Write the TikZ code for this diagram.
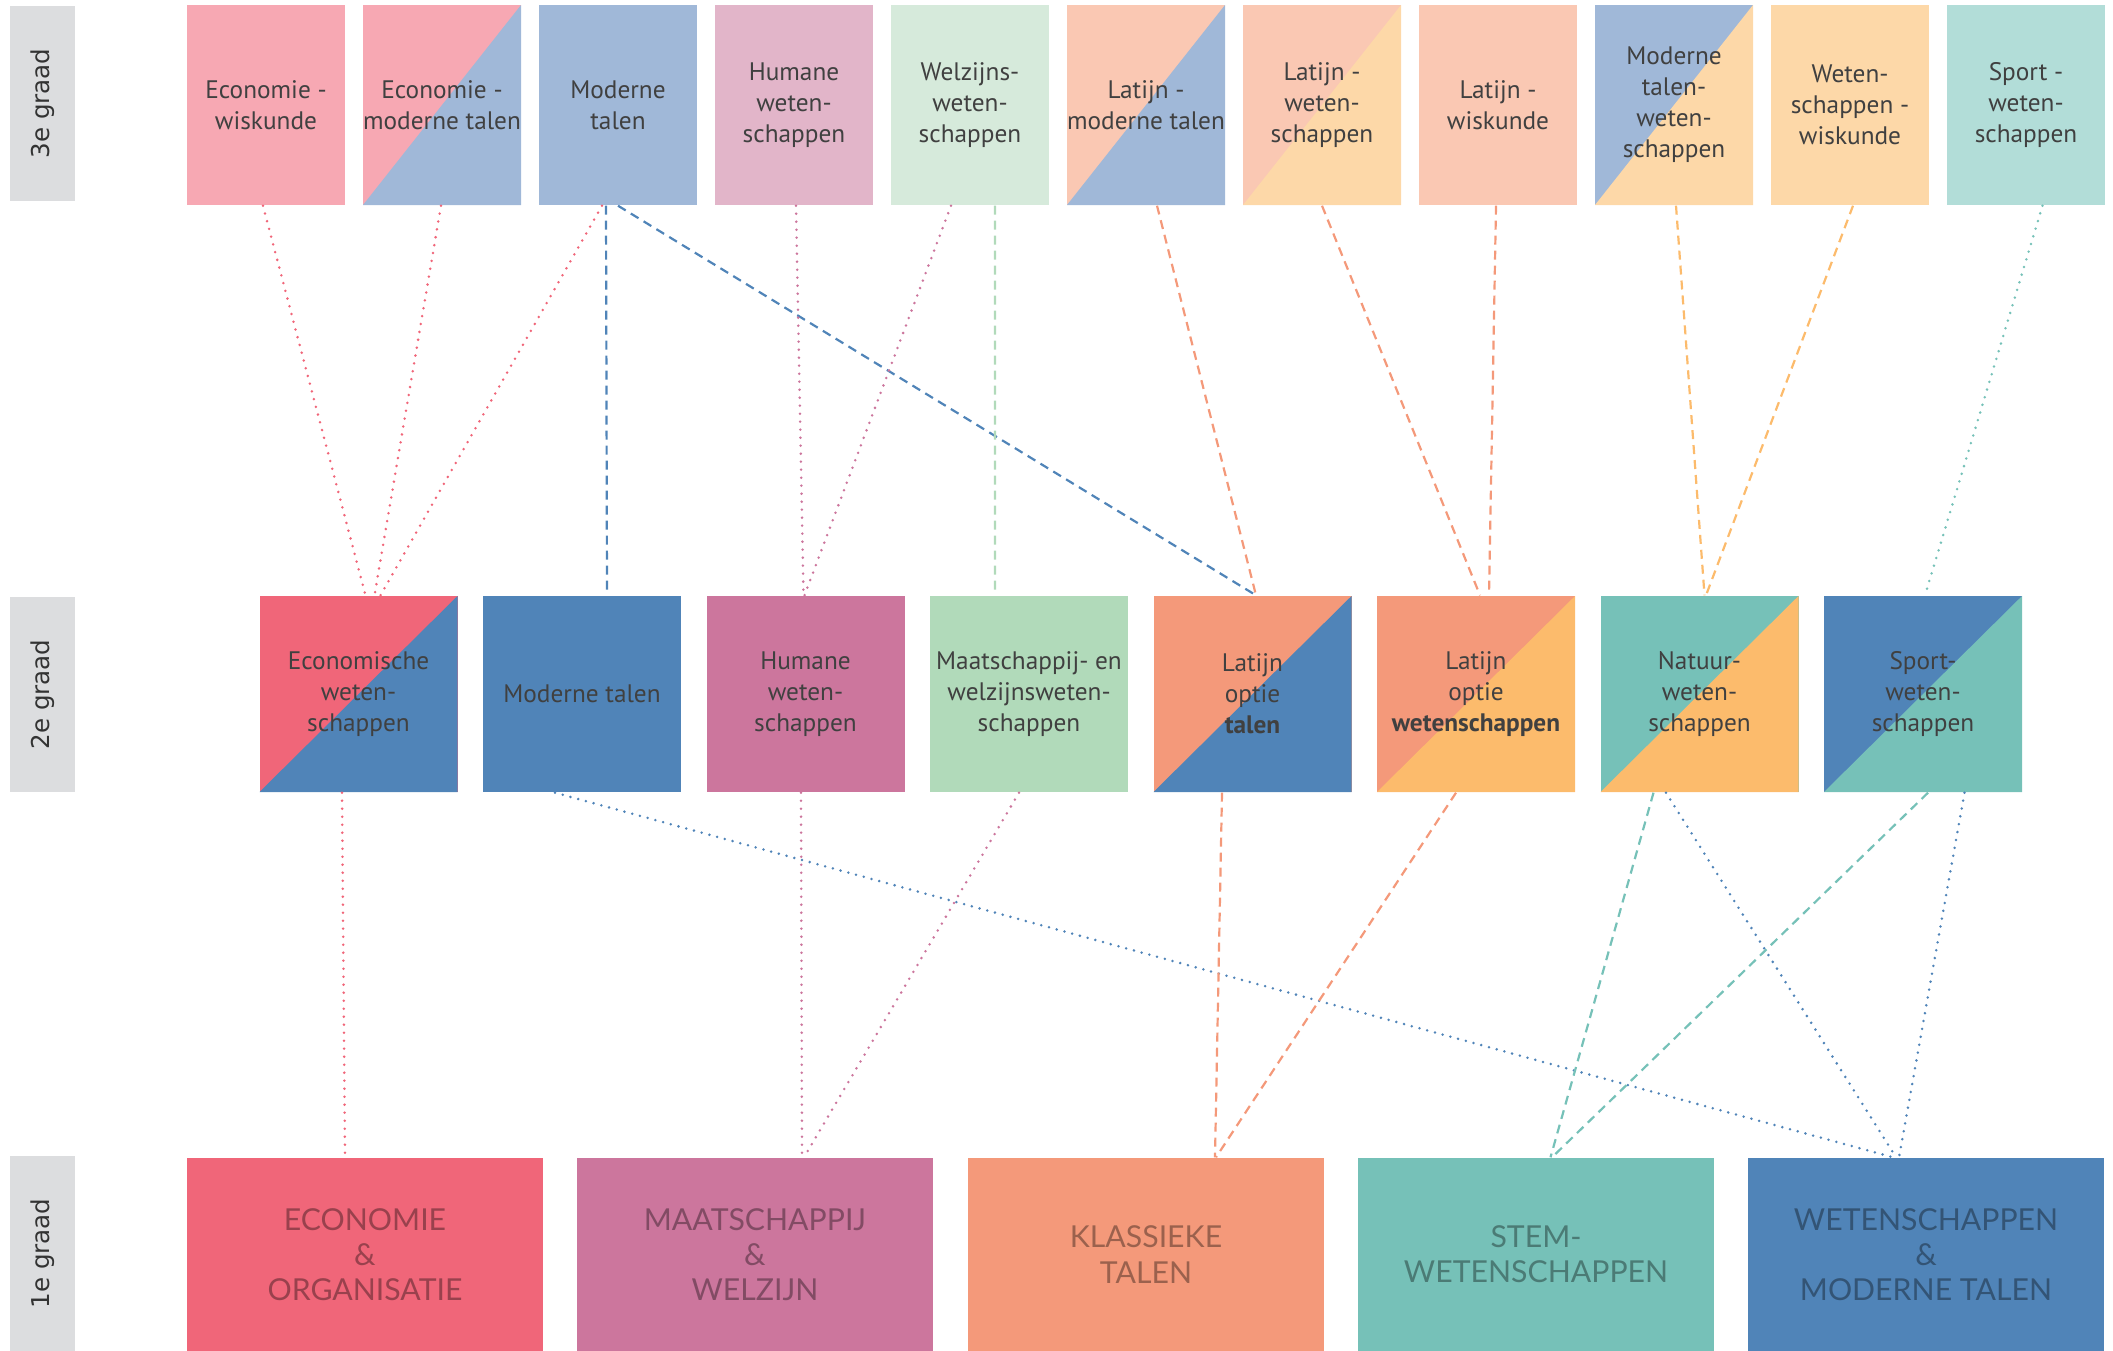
\documentclass[tikz,border=0pt]{standalone}
\usepackage{fontspec}
\setmainfont{PT Sans}
\newfontfamily\capsfont{Lato}
\newfontfamily\gradefont{DejaVu Sans}
\definecolor{ecoL}{HTML}{F7A8B3}
\definecolor{blueL}{HTML}{A0B8D8}
\definecolor{humL}{HTML}{E2B5C9}
\definecolor{welL}{HTML}{D6EADB}
\definecolor{latL}{HTML}{FAC8B3}
\definecolor{wetL}{HTML}{FDD8A8}
\definecolor{spoL}{HTML}{B2DDD8}
\definecolor{ecoD}{HTML}{F06679}
\definecolor{blueD}{HTML}{5084B8}
\definecolor{humD}{HTML}{CC769D}
\definecolor{welD}{HTML}{B1DABA}
\definecolor{latD}{HTML}{F4997A}
\definecolor{wetD}{HTML}{FCBB6C}
\definecolor{tealD}{HTML}{76C1B8}
\definecolor{gradegray}{HTML}{DCDDDF}
\tikzset{
  box/.style={inner sep=0pt, align=center, text=black!75,
    font=\fontsize{7.2}{8.8}\selectfont},
  topbox/.style={box, minimum width=1.58cm, minimum height=2cm},
  midbox/.style={box, minimum width=1.98cm, minimum height=1.96cm},
  basebox/.style={inner sep=0pt, align=center, minimum width=3.56cm,
    minimum height=1.93cm, fill=#1, text=black, text opacity=0.36,
    font=\capsfont\fontsize{8.6}{10}\selectfont},
  gradebox/.style={fill=gradegray, minimum width=0.65cm, minimum height=1.95cm,
    inner sep=0pt},
  gradetext/.style={rotate=90, text=black!80, font=\gradefont\fontsize{7}{8}\selectfont},
  twotone/.style 2 args={fill=#1, path picture={
    \fill[#2] (path picture bounding box.south west)
      -- (path picture bounding box.north east)
      -- (path picture bounding box.south east) -- cycle;}},
  dotline/.style={#1, line width=0.28mm, line cap=round,
    dash pattern=on 0pt off 0.8mm},
  dashline/.style={#1, line width=0.22mm, dash pattern=on 0.9mm off 0.6mm}
}
\begin{document}
\begin{tikzpicture}
    \useasboundingbox (0,0) rectangle (21.13,-13.51);

    \node[gradebox] (g3) at (0.43,-1.035) {};
    \node[gradetext] at (g3) {3e graad};
    \node[gradebox] (g2) at (0.43,-6.945) {};
    \node[gradetext] at (g2) {2e graad};
    \node[gradebox] (g1) at (0.43,-12.535) {};
    \node[gradetext] at (g1) {1e graad};

    \node[topbox, fill=ecoL] (t1) at (2.66,-1.05) {Economie -\\wiskunde};
    \node[topbox, twotone={ecoL}{blueL}] (t2) at (4.42,-1.05) {Economie -\\moderne talen};
    \node[topbox, fill=blueL] (t3) at (6.18,-1.05) {Moderne\\talen};
    \node[topbox, fill=humL] (t4) at (7.94,-1.05) {Humane\\weten-\\schappen};
    \node[topbox, fill=welL] (t5) at (9.70,-1.05) {Welzijns-\\weten-\\schappen};
    \node[topbox, twotone={latL}{blueL}] (t6) at (11.46,-1.05) {Latijn -\\moderne talen};
    \node[topbox, twotone={latL}{wetL}] (t7) at (13.22,-1.05) {Latijn -\\weten-\\schappen};
    \node[topbox, fill=latL] (t8) at (14.98,-1.05) {Latijn -\\wiskunde};
    \node[topbox, twotone={blueL}{wetL}] (t9) at (16.74,-1.05) {Moderne\\talen-\\weten-\\schappen};
    \node[topbox, fill=wetL] (t10) at (18.50,-1.05) {Weten-\\schappen -\\wiskunde};
    \node[topbox, fill=spoL] (t11) at (20.26,-1.05) {Sport -\\weten-\\schappen};

    \node[midbox, twotone={ecoD}{blueD}] (m1) at (3.585,-6.94) {Economische\\weten-\\schappen};
    \node[midbox, fill=blueD] (m2) at (5.82,-6.94) {Moderne talen};
    \node[midbox, fill=humD] (m3) at (8.055,-6.94) {Humane\\weten-\\schappen};
    \node[midbox, fill=welD] (m4) at (10.29,-6.94) {Maatschappij- en\\welzijnsweten-\\schappen};
    \node[midbox, twotone={latD}{blueD}] (m5) at (12.525,-6.94) {Latijn\\optie\\\textbf{talen}};
    \node[midbox, twotone={latD}{wetD}] (m6) at (14.76,-6.94) {Latijn\\optie\\\textbf{wetenschappen}};
    \node[midbox, twotone={tealD}{wetD}] (m7) at (16.995,-6.94) {Natuur-\\weten-\\schappen};
    \node[midbox, twotone={blueD}{tealD}] (m8) at (19.23,-6.94) {Sport-\\weten-\\schappen};

    \node[basebox=ecoD] (b1) at (3.65,-12.545) {ECONOMIE\\\&\\ORGANISATIE};
    \node[basebox=humD] (b2) at (7.55,-12.545) {MAATSCHAPPIJ\\\&\\WELZIJN};
    \node[basebox=latD] (b3) at (11.46,-12.545) {KLASSIEKE\\TALEN};
    \node[basebox=tealD] (b4) at (15.36,-12.545) {STEM-\\WETENSCHAPPEN};
    \node[basebox=blueD] (b5) at (19.26,-12.545) {WETENSCHAPPEN\\\&\\MODERNE TALEN};

    \draw[dotline=ecoD] ([xshift=-0.03cm]t1.south) -- ([xshift=0.07cm]m1.north);
    \draw[dotline=ecoD] ([xshift=-0.01cm]t2.south) -- ([xshift=0.16cm]m1.north);
    \draw[dotline=ecoD] ([xshift=-0.16cm]t3.south) -- ([xshift=0.22cm]m1.north);
    \draw[dashline=blueD] ([xshift=-0.12cm]t3.south) -- ([xshift=0.25cm]m2.north);
    \draw[dashline=blueD] (t3.south) -- ([xshift=0.035cm]m5.north);
    \draw[dotline=humD] ([xshift=0.02cm]t4.south) -- ([xshift=-0.02cm]m3.north);
    \draw[dotline=humD] ([xshift=-0.19cm]t5.south) -- ([xshift=-0.01cm]m3.north);
    \draw[dashline=welD] ([xshift=0.25cm]t5.south) -- ([xshift=-0.34cm]m4.north);
    \draw[dashline=latD] ([xshift=0.11cm]t6.south) -- ([xshift=0.035cm]m5.north);
    \draw[dashline=latD] (t7.south) -- ([xshift=0.04cm]m6.north);
    \draw[dashline=latD] ([xshift=-0.02cm]t8.south) -- ([xshift=0.13cm]m6.north);
    \draw[dashline=wetD] ([xshift=0.02cm]t9.south) -- ([xshift=0.05cm]m7.north);
    \draw[dashline=wetD] ([xshift=0.03cm]t10.south) -- ([xshift=0.065cm]m7.north);
    \draw[dotline=tealD] ([xshift=0.165cm]t11.south) -- ([xshift=0.02cm]m8.north);

    \draw[dotline=ecoD] ([xshift=-0.165cm]m1.south) -- ([xshift=-0.2cm]b1.north);
    \draw[dotline=blueD] ([xshift=-0.27cm]m2.south) -- ([xshift=-0.33cm]b5.north);
    \draw[dotline=humD] ([xshift=-0.045cm]m3.south) -- ([xshift=0.47cm]b2.north);
    \draw[dotline=humD] ([xshift=-0.1cm]m4.south) -- ([xshift=0.49cm]b2.north);
    \draw[dashline=latD] ([xshift=-0.305cm]m5.south) -- ([xshift=0.69cm]b3.north);
    \draw[dashline=latD] ([xshift=-0.2cm]m6.south) -- ([xshift=0.7cm]b3.north);
    \draw[dashline=tealD] ([xshift=-0.46cm]m7.south) -- ([xshift=0.145cm]b4.north);
    \draw[dotline=blueD] ([xshift=-0.335cm]m7.south) -- ([xshift=-0.3cm]b5.north);
    \draw[dashline=tealD] ([xshift=0.05cm]m8.south) -- ([xshift=0.16cm]b4.north);
    \draw[dotline=blueD] ([xshift=0.415cm]m8.south) -- ([xshift=-0.27cm]b5.north);
\end{tikzpicture}
\end{document}
